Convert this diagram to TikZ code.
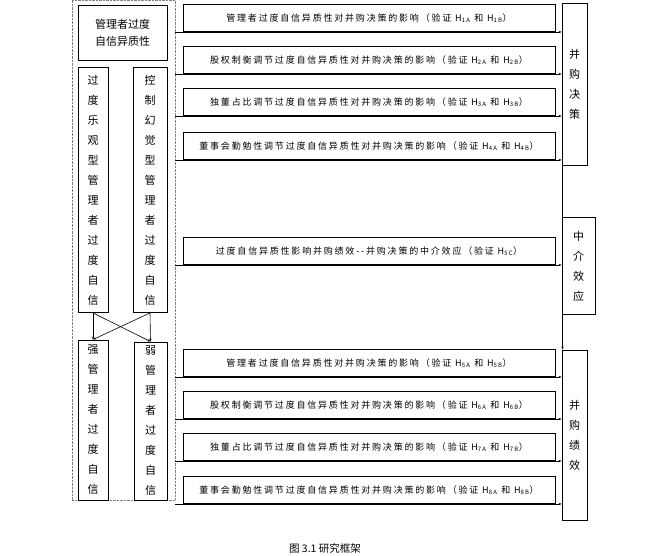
\documentclass[tikz,border=0pt]{standalone}
\usepackage{fontspec}
\setmainfont{Noto Sans CJK SC}
\newfontfamily\spacedcjk[LetterSpace=20]{Noto Sans CJK SC}
\usetikzlibrary{arrows.meta,calc}

\begin{document}
\begin{tikzpicture}[x=1pt,y=-1pt,
  box/.style={draw,line width=0.9pt,inner sep=0pt,align=center},
  mbox/.style={box,minimum width=372pt,minimum height=27pt,font=\spacedcjk\fontsize{9}{10}\selectfont},
  vbox/.style={box,font=\fontsize{11}{20}\selectfont},
  link/.style={-{Stealth[length=3pt]},line width=0.6pt}]

\useasboundingbox (0,0) rectangle (653,556);

\node[draw,densely dotted,gray,minimum width=103pt,minimum height=500pt] (grp) at (123.5,250) {};

\node[box,minimum width=89pt,minimum height=55pt,font=\fontsize{11}{17}\selectfont] (het) at (122.5,32.5) {管理者过度\\自信异质性};
\node[vbox,minimum width=30pt,minimum height=245pt] (opt) at (93,190) {过\\度\\乐\\观\\型\\管\\理\\者\\过\\度\\自\\信};
\node[vbox,minimum width=34pt,minimum height=245pt] (ctl) at (150,190) {控\\制\\幻\\觉\\型\\管\\理\\者\\过\\度\\自\\信};
\node[vbox,minimum width=30pt,minimum height=160pt] (str) at (93,420) {强\\管\\理\\者\\过\\度\\自\\信};
\node[vbox,minimum width=33pt,minimum height=158pt] (weak) at (150.5,421) {弱\\管\\理\\者\\过\\度\\自\\信};

\draw[link] (opt.south) -- (str.north);
\draw[link] (opt.south) -- (weak.north);
\draw[link] (ctl.south) -- (str.north);
\draw[link] (ctl.south) -- (weak.north);

% effects
\node[mbox] (m1) at (369,18) {管理者过度自信异质性对并购决策的影响（验证 H\textsubscript{1A} 和 H\textsubscript{1B}）};
\node[mbox] (m2) at (369,60) {股权制衡调节过度自信异质性对并购决策的影响（验证 H\textsubscript{2A} 和 H\textsubscript{2B}）};
\node[mbox] (m3) at (369,102) {独董占比调节过度自信异质性对并购决策的影响（验证 H\textsubscript{3A} 和 H\textsubscript{3B}）};
\node[mbox] (m4) at (369,146) {董事会勤勉性调节过度自信异质性对并购决策的影响（验证 H\textsubscript{4A} 和 H\textsubscript{4B}）};
\node[mbox] (m5) at (369,251) {过度自信异质性影响并购绩效-{}-并购决策的中介效应（验证 H\textsubscript{5C}）};
\node[mbox] (m6) at (369,363) {管理者过度自信异质性对并购决策的影响（验证 H\textsubscript{5A} 和 H\textsubscript{5B}）};
\node[mbox] (m7) at (369,405) {股权制衡调节过度自信异质性对并购决策的影响（验证 H\textsubscript{6A} 和 H\textsubscript{6B}）};
\node[mbox] (m8) at (369,447) {独董占比调节过度自信异质性对并购决策的影响（验证 H\textsubscript{7A} 和 H\textsubscript{7B}）};
\node[mbox] (m9) at (369,490) {董事会勤勉性调节过度自信异质性对并购决策的影响（验证 H\textsubscript{8A} 和 H\textsubscript{8B}）};

% outcomes
\node[vbox,minimum width=25pt,minimum height=162pt] (dec) at (574.5,84) {并\\购\\决\\策};
\node[vbox,minimum width=33pt,minimum height=97pt] (med) at (578.5,266) {中\\介\\效\\应};
\node[vbox,minimum width=25pt,minimum height=170pt] (perf) at (574.5,435) {并\\购\\绩\\效};

\foreach \i in {1,...,4}{\draw[link] (grp.east |- m\i.south) -- (dec.west |- m\i.south);}
\draw[link] (grp.east |- m5.south) -- (med.west |- m5.south);
\foreach \i in {6,...,9}{\draw[link] (grp.east |- m\i.south) -- (perf.west |- m\i.south);}

\draw[line width=0.6pt] ($(dec.south west)+(1,0)$) -- ($(dec.south west)+(1,53)$);
\draw[link] ($(med.south west)+(1,0)$) -- ($(perf.north west)+(1,0)$);

\node[font=\fontsize{10.5}{12}\selectfont] (cap) at (325,548) {图 3.1\ 研究框架};
\end{tikzpicture}
\end{document}
